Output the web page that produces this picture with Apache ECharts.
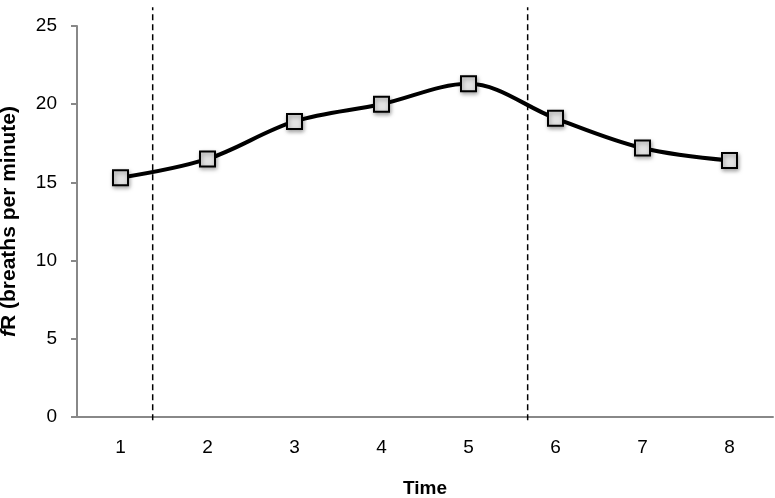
<!DOCTYPE html>
<html>
<head>
<meta charset="utf-8">
<script src="https://cdn.jsdelivr.net/npm/echarts@6/dist/echarts.min.js"></script>
<style>html,body{margin:0;padding:0;background:#fff}#c{width:775px;height:498px}</style>
</head>
<body>
<div id="c"></div>
<script>
var categories = ['1','2','3','4','5','6','7','8'];
var fRValues = [15.3, 16.5, 18.9, 20.0, 21.3, 19.1, 17.2, 16.4];
var yTicks = {min: 0, max: 25, interval: 5};
var dividerPositions = [1.37, 5.68];
var dividerSpan = [-0.2, 26.2];

var chart = echarts.init(document.getElementById('c'));
var font = 'Liberation Sans, Arial, sans-serif';
var dividerSeries = dividerPositions.map(function (p) {
  return {
    type: 'line', xAxisIndex: 1, yAxisIndex: 0, clip: false, silent: true,
    symbol: 'none', z: 1,
    lineStyle: {color: '#000', width: 1.5, type: [6, 4]},
    data: [[p, dividerSpan[0]], [p, dividerSpan[1]]]
  };
});
chart.setOption({
  animation: false,
  grid: {left: 77, right: 2, top: 26, bottom: 81, containLabel: false, outerBoundsMode: 'none'},
  xAxis: [{
    type: 'category', data: categories, boundaryGap: true,
    name: 'Time', nameLocation: 'middle', nameGap: 62,
    nameTextStyle: {fontFamily: font, fontSize: 19, fontWeight: 'bold', color: '#000'},
    axisLine: {lineStyle: {color: '#888', width: 2}},
    axisTick: {alignWithLabel: true, length: 4, lineStyle: {color: '#888', width: 2}},
    axisLabel: {fontFamily: font, fontSize: 19, color: '#000', margin: 21},
    splitLine: {show: false}
  }, {
    type: 'value', min: 0.5, max: 8.5, show: false
  }],
  yAxis: [{
    type: 'value', min: yTicks.min, max: yTicks.max, interval: yTicks.interval,
    name: '{it|f}{b|R (breaths per minute)}', nameLocation: 'middle', nameGap: 57, nameRotate: 90,
    nameTextStyle: {rich: {
      it: {fontFamily: font, fontSize: 21, fontWeight: 'bold', fontStyle: 'italic', color: '#000'},
      b: {fontFamily: font, fontSize: 21, fontWeight: 'bold', color: '#000'}
    }},
    axisLine: {show: true, lineStyle: {color: '#888', width: 2}},
    axisTick: {show: true, length: 6, lineStyle: {color: '#888', width: 2}},
    axisLabel: {fontFamily: font, fontSize: 19, color: '#000', margin: 20},
    splitLine: {show: false}
  }],
  series: [{
    type: 'line', data: fRValues, smooth: 0.35, z: 3,
    symbol: 'rect', symbolSize: 15,
    lineStyle: {color: '#000', width: 4},
    itemStyle: {color: '#e2e2e2', borderColor: '#000', borderWidth: 2,
      shadowColor: 'rgba(0,0,0,0.35)', shadowBlur: 4, shadowOffsetX: 1, shadowOffsetY: 2}
  }].concat(dividerSeries)
});
</script>
</body>
</html>
